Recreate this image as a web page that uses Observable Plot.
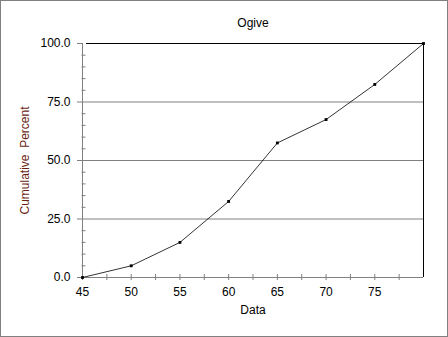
<!DOCTYPE html>
<html>
<head>
<meta charset="utf-8">
<script src="https://cdn.jsdelivr.net/npm/d3@7"></script>
<script src="https://cdn.jsdelivr.net/npm/@observablehq/plot@0.6"></script>
<style>
  html, body { margin: 0; padding: 0; background: #fff; }
  #wrap { position: relative; width: 448px; height: 337px; overflow: hidden; }
  #wrap svg { position: absolute; left: 0; top: 0; }
  #frame { position: absolute; left: 0; top: 0; width: 448px; height: 337px; box-sizing: border-box; border: 1px solid #808080; pointer-events: none; }
</style>
</head>
<body>
<div id="wrap"><div id="frame"></div></div>
<script>
const dataX = [45, 50, 55, 60, 65, 70, 75, 80];
const cumPercent = [0, 5, 15, 32.5, 57.5, 67.5, 82.5, 100];
const xMajor = [45, 50, 55, 60, 65, 70, 75];
const xMinor = [47.5, 52.5, 57.5, 62.5, 67.5, 72.5, 77.5];
const yMajor = [0, 25, 50, 75, 100];
const yMinor = [5, 10, 15, 20, 30, 35, 40, 45, 55, 60, 65, 70, 80, 85, 90, 95];
const gridY = [25, 50, 75];
const title = "Ogive";
const xLabel = "Data";
const yLabel = "Cumulative  Percent";

const points = dataX.map((x, i) => ({x, y: cumPercent[i]}));
const font = "'Liberation Sans', Arial, sans-serif";

const chart = Plot.plot({
  width: 448,
  height: 337,
  marginLeft: 82,
  marginRight: 25,
  marginTop: 43,
  marginBottom: 60,
  style: {fontFamily: font, fontSize: "12px", background: "transparent", overflow: "visible"},
  x: {domain: [45, 80]},
  y: {domain: [0, 100]},
  marks: [
    Plot.ruleY(gridY, {stroke: "#808080", strokeOpacity: 1}),
    Plot.ruleY([100], {stroke: "#000", strokeOpacity: 1, insetLeft: 4}),
    Plot.ruleX([80], {stroke: "#000", strokeOpacity: 1}),
    Plot.ruleX([45], {stroke: "#808080", strokeOpacity: 1}),
    Plot.ruleY([0], {stroke: "#808080", strokeOpacity: 1}),
    Plot.axisY({ticks: yMajor, tickSize: 5, tickPadding: 7, tickFormat: d => d.toFixed(1), stroke: "#808080", strokeOpacity: 1, fill: "#000", label: null, fontSize: 12, style: {letterSpacing: "0.6px"}}),
    Plot.axisY({ticks: yMinor, tickSize: 4, dx: 3.5, tickFormat: () => "", stroke: "#808080", strokeOpacity: 1, label: null}),
    Plot.axisX({ticks: xMajor.concat(xMinor), tickSize: 6, dy: -3, tickFormat: () => "", stroke: "#808080", strokeOpacity: 1, label: null}),
    Plot.axisX({ticks: xMajor, tickSize: 0, tickPadding: 10, tickFormat: d => String(d), fill: "#000", label: null, fontSize: 12}),
    Plot.line(points, {x: "x", y: "y", stroke: "#000", strokeWidth: 0.8}),
    Plot.dot(points, {x: "x", y: "y", symbol: "square", r: 1.6, fill: "#000", stroke: null}),
    Plot.text([title], {frameAnchor: "top", dy: -25, text: d => d, fill: "#000", fontSize: 12}),
    Plot.text([xLabel], {frameAnchor: "bottom", dy: 36, text: d => d, fill: "#000", fontSize: 12}),
    Plot.text([yLabel], {frameAnchor: "left", textAnchor: "middle", dx: -57, rotate: -90, text: d => d, fill: "#6b1f14", fontSize: 12})
  ]
});
document.getElementById("wrap").insertBefore(chart, document.getElementById("frame"));
</script>
</body>
</html>
